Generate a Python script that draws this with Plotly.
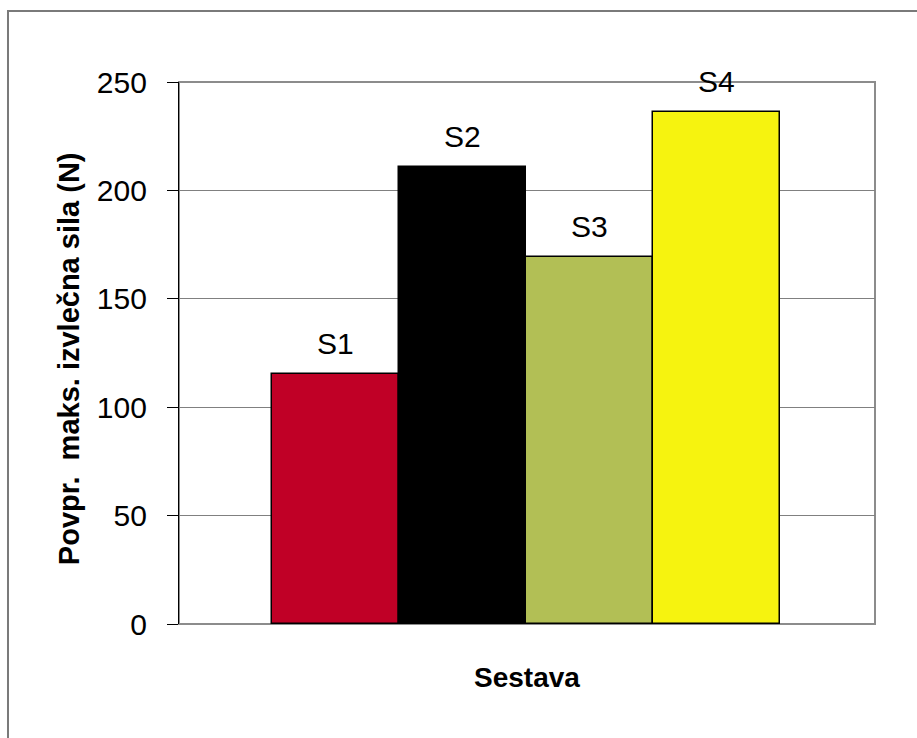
import plotly.graph_objects as go

# Mean maximum pull-out force per assembly
categories = ["S1", "S2", "S3", "S4"]
values = [115.5, 211.0, 169.5, 236.0]
colors = ["#C00026", "#000000", "#B2BF55", "#F6F30F"]
y_ticks = [0, 50, 100, 150, 200, 250]

y_title = "Povpr.  maks. izvlečna sila (N)"
x_title = "Sestava"

FONT = "Liberation Sans, Arial, sans-serif"

fig = go.Figure()
fig.add_trace(go.Bar(
    x=categories,
    y=values,
    marker=dict(color=colors, line=dict(color="#000000", width=1.5)),
    width=1.0,
    showlegend=False,
    hoverinfo="x+y",
))

# series labels above each bar
for cat, val in zip(categories, values):
    fig.add_annotation(
        x=cat, y=val, xref="x", yref="y",
        text=cat, showarrow=False,
        yanchor="bottom", yshift=12,
        font=dict(family=FONT, size=30, color="#000000"),
    )

# axis titles
fig.add_annotation(
    x=-0.157, y=0.49, xref="paper", yref="paper",
    text=y_title, textangle=-90, showarrow=False,
    xanchor="center", yanchor="middle",
    font=dict(family=FONT, size=29, color="#000000", weight="bold"),
)
fig.add_annotation(
    x=0.5, y=-0.098, xref="paper", yref="paper",
    text=x_title, showarrow=False,
    xanchor="center", yanchor="middle",
    font=dict(family=FONT, size=28, color="#000000", weight="bold"),
)

# plot-area frame (grey top/right/bottom) and outer chart frame
fig.add_shape(type="rect", xref="paper", yref="paper",
              x0=0, y0=0, x1=1, y1=1,
              line=dict(color="#8c8c8c", width=2), layer="below")
fig.add_shape(type="rect", xref="paper", yref="paper",
              x0=-0.2457, y0=-0.25, x1=1.1, y1=1.131,
              line=dict(color="#7a7a7a", width=2), layer="below")

fig.update_layout(
    width=917, height=738,
    margin=dict(l=179, r=42, t=82, b=114),
    paper_bgcolor="#ffffff",
    plot_bgcolor="#ffffff",
    bargap=0,
    font=dict(family=FONT, size=30, color="#000000"),
    xaxis=dict(
        type="category",
        range=[-1.232, 4.248],
        showticklabels=False,
        ticks="",
        showgrid=False,
        showline=False,
        zeroline=False,
        fixedrange=True,
    ),
    yaxis=dict(
        range=[0, 250],
        tickvals=y_ticks,
        ticktext=[str(v) for v in y_ticks],
        ticks="outside",
        ticklen=11,
        tickwidth=1,
        tickcolor="#000000",
        showline=True,
        linecolor="#000000",
        linewidth=1.2,
        showgrid=True,
        gridcolor="#808080",
        gridwidth=1,
        zeroline=False,
        ticklabelstandoff=14,
        tickfont=dict(family=FONT, size=30, color="#000000"),
        fixedrange=True,
    ),
)

fig.write_html("out.html")
